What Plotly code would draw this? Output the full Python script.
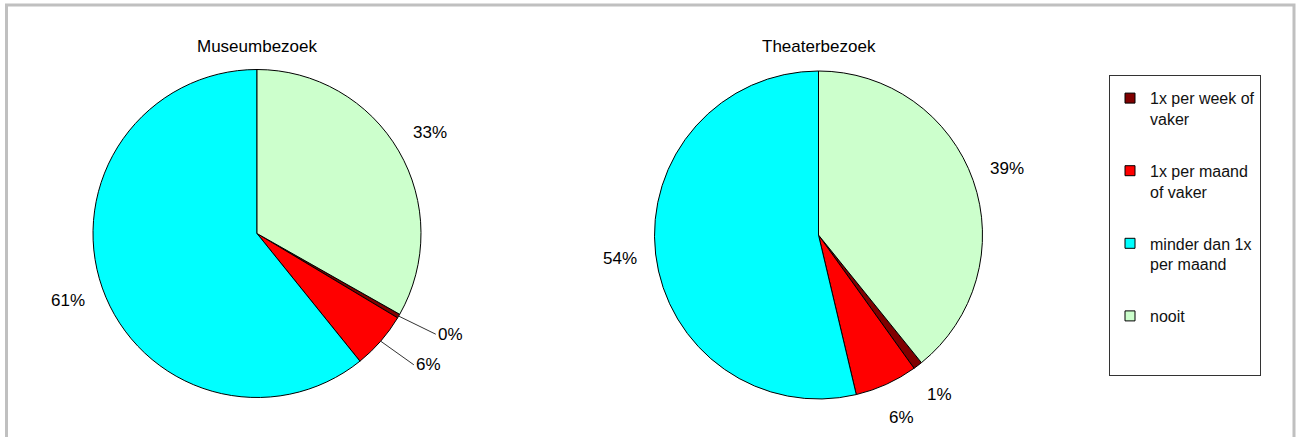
import math
import plotly.graph_objects as go

# ---- data ----
categories = ["1x per week of vaker", "1x per maand of vaker",
              "minder dan 1x per maand", "nooit"]
legend_labels = ["1x per week of<br>vaker", "1x per maand<br>of vaker",
                 "minder dan 1x<br>per maand", "nooit<br> <br> "]
museum_values = [0.4, 5.6, 60.8, 33.2]
theater_values = [0.9, 6.2, 53.7, 39.2]
chart_titles = ["Museumbezoek", "Theaterbezoek"]
slice_colors = ["#800000", "#FF0000", "#00FFFF", "#CCFFCC"]
# which labels get a leader line (per pie, per category)
leader_lines = [[True, True, False, False], [False, False, False, False]]

W, H = 1298, 437
FONT = "Liberation Sans, Arial, sans-serif"
LABEL_GAP = 36  # distance of label centre outside the rim (px)


def px_x(v):
    return v / W


def px_y(v):
    return 1 - v / H


# pie geometry (center x, center y, radius) in pixels
pies = [
    dict(values=museum_values, title=chart_titles[0], cx=257, cy=233.5, r=164,
         leaders=leader_lines[0]),
    dict(values=theater_values, title=chart_titles[1], cx=818.5, cy=235, r=164,
         leaders=leader_lines[1]),
]

fig = go.Figure()
annotations = []
for p in pies:
    vals = p["values"]
    total = sum(vals)
    rot = vals[-1] / total * 360.0
    fig.add_trace(go.Pie(
        labels=categories,
        values=vals,
        sort=False,
        direction="clockwise",
        rotation=rot,
        marker=dict(colors=slice_colors, line=dict(color="black", width=1)),
        textinfo="none",
        showlegend=False,
        hoverinfo="label+percent",
        domain=dict(x=[px_x(p["cx"] - p["r"]), px_x(p["cx"] + p["r"])],
                    y=[px_y(p["cy"] + p["r"]), px_y(p["cy"] - p["r"])]),
    ))
    annotations.append(dict(
        text=p["title"], x=px_x(p["cx"]), y=px_y(46), xref="paper", yref="paper",
        xanchor="center", yanchor="middle", showarrow=False,
        font=dict(family=FONT, size=17, color="black"),
    ))
    # percentage labels placed at each slice's mid angle
    cum = 0.0
    for v, lead in zip(vals, p["leaders"]):
        mid = math.radians(rot + (cum + v / 2) / total * 360.0)
        cum += v
        sx, sy = math.sin(mid), -math.cos(mid)
        pct = f"{round(v / total * 100)}%"
        if lead:
            annotations.append(dict(
                text=pct, xref="paper", yref="paper",
                x=px_x(p["cx"] + p["r"] * sx), y=px_y(p["cy"] + p["r"] * sy),
                ax=LABEL_GAP * sx + 6, ay=LABEL_GAP * sy,
                showarrow=True, arrowhead=0, arrowwidth=1, arrowcolor="#333333",
                standoff=0, startstandoff=0,
                font=dict(family=FONT, size=17, color="black"),
                xanchor="left", yanchor="middle",
            ))
        else:
            D = p["r"] + LABEL_GAP
            annotations.append(dict(
                text=pct, xref="paper", yref="paper",
                x=px_x(p["cx"] + D * sx), y=px_y(p["cy"] + D * sy),
                showarrow=False, xanchor="center", yanchor="middle",
                font=dict(family=FONT, size=17, color="black"),
            ))

# legend entries (one group per category so gaps can be set)
for lab, col in zip(legend_labels, slice_colors):
    fig.add_trace(go.Scatter(
        x=[None], y=[None], mode="markers", name=lab, legendgroup=lab,
        marker=dict(symbol="square", size=10, color=col,
                    line=dict(color="black", width=1)),
        hoverinfo="skip",
    ))

fig.update_layout(
    width=W, height=H,
    margin=dict(l=0, r=0, t=0, b=0),
    paper_bgcolor="white", plot_bgcolor="white",
    xaxis=dict(visible=False), yaxis=dict(visible=False),
    showlegend=True,
    legend=dict(
        x=px_x(1109), xanchor="left", y=px_y(75), yanchor="top",
        bgcolor="white", bordercolor="#333333", borderwidth=1,
        font=dict(family=FONT, size=16, color="#111111"),
        valign="top", tracegroupgap=28, traceorder="grouped",
        title=dict(text=" ", font=dict(size=4)),
    ),
    annotations=annotations,
    shapes=[dict(
        type="rect", xref="paper", yref="paper", layer="below",
        x0=px_x(6.5), x1=px_x(1294), y0=-0.2, y1=px_y(5),
        line=dict(color="#c0c0c0", width=3),
    )],
)

fig.write_html("out.html", config={"displayModeBar": False},
               post_script="document.body.style.margin='0';document.body.style.overflow='hidden';")
